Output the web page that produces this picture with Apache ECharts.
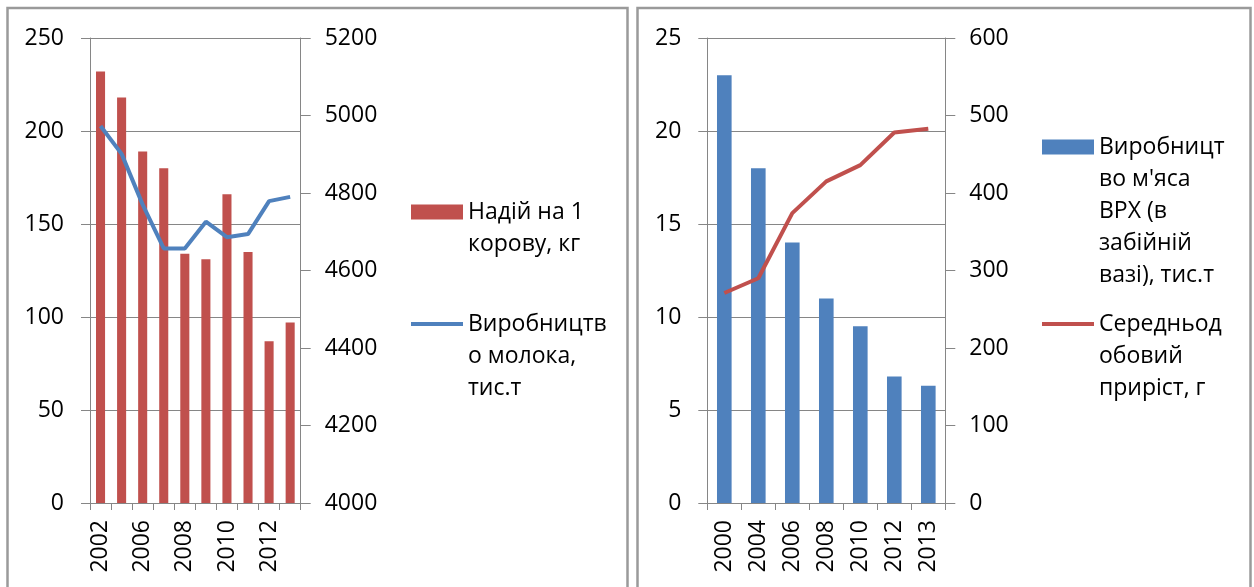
<!DOCTYPE html>
<html><head><meta charset="utf-8">
<script src="https://cdn.jsdelivr.net/npm/echarts@6/dist/echarts.min.js"></script>
<style>html,body{margin:0;padding:0;background:#fff}#c{width:1254px;height:587px}</style>
</head><body><div id="c"></div>
<script>
// Left chart data
var yearsA = ['2002','2004','2006','2007','2008','2009','2010','2011','2012','2013'];
var milkYield = [232, 218, 189, 180, 134, 131, 166, 135, 87, 97];
var milkProd = [4973, 4901, 4770, 4657, 4657, 4726, 4686, 4694, 4779, 4790];
var nameA1 = 'Надій на 1\nкорову, кг';
var nameA2 = 'Виробництв\nо молока,\nтис.т';
// Right chart data
var yearsB = ['2000','2004','2006','2008','2010','2012','2013'];
var meatProd = [23, 18, 14, 11, 9.5, 6.8, 6.3];
var dailyGain = [271, 290, 374, 415, 436, 478, 483];
var nameB1 = 'Виробницт\nво м\'яса\nВРХ (в\nзабійній\nвазі), тис.т';
var nameB2 = 'Середньод\nобовий\nприріст, г';

var FONT = 'Open Sans';
var FS = 23, LH = 32;
var axisGray = '#868686';
var RED = '#C0504D', BLUE = '#4F81BD';

function yAx(gi, min, max, interval, pos, split) {
  return {
    type: 'value', gridIndex: gi, min: min, max: max, interval: interval, position: pos,
    axisLine: {show: true, lineStyle: {color: axisGray, width: 1}},
    axisTick: {show: true, inside: false, length: pos === 'left' ? 9 : 10, lineStyle: {color: axisGray}},
    axisLabel: {color: '#000', fontFamily: FONT, fontSize: FS, margin: pos === 'left' ? 26 : 24,
      formatter: function (v) { return String(v); }},
    splitLine: {show: split, lineStyle: {color: axisGray, width: 1}}
  };
}
function xAx(gi, data, labInt) {
  return {
    type: 'category', gridIndex: gi, data: data, boundaryGap: true,
    axisLine: {show: true, lineStyle: {color: axisGray}},
    axisTick: {show: true, interval: 0, length: 7, lineStyle: {color: axisGray}},
    axisLabel: {rotate: 90, interval: labInt, color: '#000', fontFamily: FONT, fontSize: FS, margin: 17}
  };
}
function leg(name, left, top, icon, lines) {
  return {
    orient: 'vertical', left: left, top: top, padding: 0,
    itemWidth: 52, itemHeight: 15, itemGap: 0, icon: icon,
    formatter: '{t|{name}}',
    data: [{name: name, textStyle: {padding: [(lines - 1) * LH, 0, 0, 0]}}],
    textStyle: {fontFamily: FONT, fontSize: FS, lineHeight: LH, color: '#000',
      rich: {t: {fontFamily: FONT, fontSize: FS, lineHeight: LH, color: '#000'}}}
  };
}

var chart = echarts.init(document.getElementById('c'), null, {renderer: 'canvas'});
chart.setOption({
  animation: false,
  backgroundColor: '#fff',
  graphic: [
    {type: 'rect', shape: {x: 7.5, y: 8, width: 620, height: 600}, style: {fill: 'none', stroke: '#9a9a9a', lineWidth: 2.5}},
    {type: 'rect', shape: {x: 637.5, y: 8, width: 613, height: 600}, style: {fill: 'none', stroke: '#9a9a9a', lineWidth: 2.5}}
  ],
  grid: [
    {left: 90, top: 38, width: 210.7, height: 465},
    {left: 707.3, top: 38, width: 238, height: 465}
  ],
  xAxis: [xAx(0, yearsA, 1), xAx(1, yearsB, 0)],
  yAxis: [
    yAx(0, 0, 250, 50, 'left', true),
    yAx(0, 4000, 5200, 200, 'right', false),
    yAx(1, 0, 25, 5, 'left', true),
    yAx(1, 0, 600, 100, 'right', false)
  ],
  legend: [
    leg(nameA1, 411, 164, 'rect', 2),
    leg(nameA2, 411, 244, 'path://M0,6 L52,6 L52,10 L0,10 Z', 3),
    leg(nameB1, 1042, 3, 'rect', 5),
    leg(nameB2, 1042, 244, 'path://M0,6 L52,6 L52,10 L0,10 Z', 3)
  ],
  series: [
    {name: nameA1, type: 'bar', xAxisIndex: 0, yAxisIndex: 0, data: milkYield, barWidth: '43%', itemStyle: {color: RED}},
    {name: nameA2, type: 'line', xAxisIndex: 0, yAxisIndex: 1, data: milkProd, symbol: 'none', lineStyle: {color: BLUE, width: 4}, itemStyle: {color: BLUE}},
    {name: nameB1, type: 'bar', xAxisIndex: 1, yAxisIndex: 2, data: meatProd, barWidth: '43%', itemStyle: {color: BLUE}},
    {name: nameB2, type: 'line', xAxisIndex: 1, yAxisIndex: 3, data: dailyGain, symbol: 'none', lineStyle: {color: RED, width: 4}, itemStyle: {color: RED}}
  ]
});
</script></body></html>
